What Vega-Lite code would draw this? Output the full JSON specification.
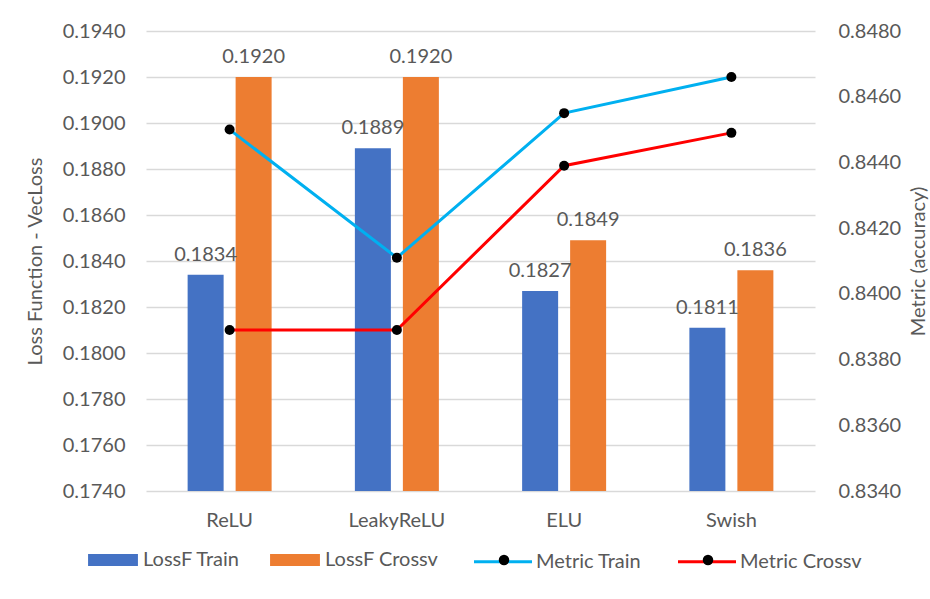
{
  "$schema": "https://vega.github.io/schema/vega-lite/v6.json",
  "width": 669,
  "height": 460,
  "autosize": {"type": "none"},
  "padding": {"left": 146, "top": 31, "right": 115, "bottom": 108},
  "background": "white",
  "config": {
    "font": "Lato",
    "view": {"stroke": null},
    "axis": {
      "labelFont": "Lato",
      "labelFontSize": 20,
      "labelColor": "#595959",
      "titleFont": "Lato",
      "titleFontSize": 20,
      "titleFontWeight": "normal",
      "titleColor": "#595959",
      "domain": false,
      "ticks": false
    },
    "legend": {
      "orient": "none",
      "legendY": 500,
      "direction": "horizontal",
      "columns": 2,
      "symbolSize": 3364,
      "labelFont": "Lato",
      "labelFontSize": 20,
      "labelColor": "#595959",
      "columnPadding": 30
    }
  },
  "data": {
    "values": [
      {"act": "ReLU", "kind": "loss", "series": "LossF Train", "value": 0.1834},
      {"act": "ReLU", "kind": "loss", "series": "LossF Crossv", "value": 0.1920},
      {"act": "ReLU", "kind": "metric", "series": "Metric Train", "value": 0.8450},
      {"act": "ReLU", "kind": "metric", "series": "Metric Crossv", "value": 0.8389},
      {"act": "LeakyReLU", "kind": "loss", "series": "LossF Train", "value": 0.1889},
      {"act": "LeakyReLU", "kind": "loss", "series": "LossF Crossv", "value": 0.1920},
      {"act": "LeakyReLU", "kind": "metric", "series": "Metric Train", "value": 0.8411},
      {"act": "LeakyReLU", "kind": "metric", "series": "Metric Crossv", "value": 0.8389},
      {"act": "ELU", "kind": "loss", "series": "LossF Train", "value": 0.1827},
      {"act": "ELU", "kind": "loss", "series": "LossF Crossv", "value": 0.1849},
      {"act": "ELU", "kind": "metric", "series": "Metric Train", "value": 0.8455},
      {"act": "ELU", "kind": "metric", "series": "Metric Crossv", "value": 0.8439},
      {"act": "Swish", "kind": "loss", "series": "LossF Train", "value": 0.1811},
      {"act": "Swish", "kind": "loss", "series": "LossF Crossv", "value": 0.1836},
      {"act": "Swish", "kind": "metric", "series": "Metric Train", "value": 0.8466},
      {"act": "Swish", "kind": "metric", "series": "Metric Crossv", "value": 0.8449}
    ]
  },
  "layer": [
    {
      "transform": [{"filter": "datum.kind === 'loss'"}],
      "encoding": {
        "x": {
          "field": "act",
          "type": "nominal",
          "sort": ["ReLU", "LeakyReLU", "ELU", "Swish"],
          "scale": {"paddingInner": 0.4978, "paddingOuter": 0.2489},
          "axis": {"title": null, "labelAngle": 0, "labelPadding": 19, "grid": false}
        },
        "xOffset": {
          "field": "series",
          "type": "nominal",
          "sort": ["LossF Train", "LossF Crossv"],
          "scale": {"paddingInner": 0.25, "paddingOuter": 0}
        },
        "y": {
          "field": "value",
          "type": "quantitative",
          "scale": {"domain": [0.174, 0.194], "nice": false, "zero": false},
          "axis": {
            "orient": "left",
            "title": "Loss Function - VecLoss",
            "values": [0.174, 0.176, 0.178, 0.18, 0.182, 0.184, 0.186, 0.188, 0.19, 0.192, 0.194],
            "format": ".4f",
            "labelPadding": 21,
            "grid": true,
            "gridColor": "#D9D9D9",
            "gridWidth": 1.3,
            "titleAngle": 270,
            "titleX": -111,
            "titleY": 230,
            "titleAlign": "center",
            "titleBaseline": "middle"
          }
        }
      },
      "layer": [
        {
          "mark": {"type": "bar"},
          "encoding": {
            "y2": {"datum": 0.174},
            "color": {
              "field": "series",
              "type": "nominal",
              "scale": {
                "domain": ["LossF Train", "LossF Crossv"],
                "range": ["#4472C4", "#ED7D31"]
              },
              "legend": {
                "title": null,
                "legendX": -58,
                "encode": {
                  "symbols": {
                    "update": {
                      "shape": {"value": "M-0.86,-0.21L0.86,-0.21L0.86,0.21L-0.86,0.21Z"},
                      "strokeWidth": {"value": 0},
                      "x": {"value": 25}
                    }
                  },
                  "labels": {"update": {"x": {"value": 55}}}
                }
              }
            }
          }
        },
        {
          "mark": {"type": "text", "baseline": "alphabetic", "dy": -14, "fontSize": 20, "font": "Lato", "color": "#595959"},
          "encoding": {
            "text": {"field": "value", "type": "quantitative", "format": ".4f"}
          }
        }
      ]
    },
    {
      "transform": [{"filter": "datum.kind === 'metric'"}],
      "encoding": {
        "x": {
          "field": "act",
          "type": "nominal",
          "sort": ["ReLU", "LeakyReLU", "ELU", "Swish"]
        },
        "y": {
          "field": "value",
          "type": "quantitative",
          "scale": {"domain": [0.834, 0.848], "nice": false, "zero": false},
          "axis": {
            "orient": "right",
            "title": "Metric (accuracy)",
            "values": [0.834, 0.836, 0.838, 0.84, 0.842, 0.844, 0.846, 0.848],
            "format": ".4f",
            "labelPadding": 23,
            "grid": false,
            "titleAngle": 270,
            "titleX": 103,
            "titleY": 230,
            "titleAlign": "center",
            "titleBaseline": "middle"
          }
        }
      },
      "layer": [
        {
          "mark": {"type": "line", "strokeWidth": 3},
          "encoding": {
            "stroke": {
              "field": "series",
              "type": "nominal",
              "scale": {
                "domain": ["Metric Train", "Metric Crossv"],
                "range": ["#00B0F0", "#FF0000"]
              },
              "legend": {
                "title": null,
                "legendX": 328,
                "encode": {
                  "symbols": {
                    "update": {
                      "shape": {"value": "M-1,0L1,0"},
                      "strokeWidth": {"value": 3},
                      "x": {"value": 29}
                    }
                  },
                  "labels": {"update": {"x": {"value": 62}}}
                }
              }
            }
          }
        },
        {
          "mark": {"type": "point", "filled": true, "size": 100, "opacity": 1},
          "encoding": {
            "fill": {
              "field": "series",
              "type": "nominal",
              "sort": ["Metric Train", "Metric Crossv"],
              "scale": {"range": ["#000000", "#000000"]},
              "legend": {
                "title": null,
                "legendX": 348,
                "legendY": 519,
                "columnPadding": 74,
                "labelOpacity": 0,
                "symbolSize": 110,
                "symbolStrokeWidth": 0
              }
            }
          }
        }
      ]
    }
  ],
  "resolve": {"scale": {"y": "independent"}}
}
